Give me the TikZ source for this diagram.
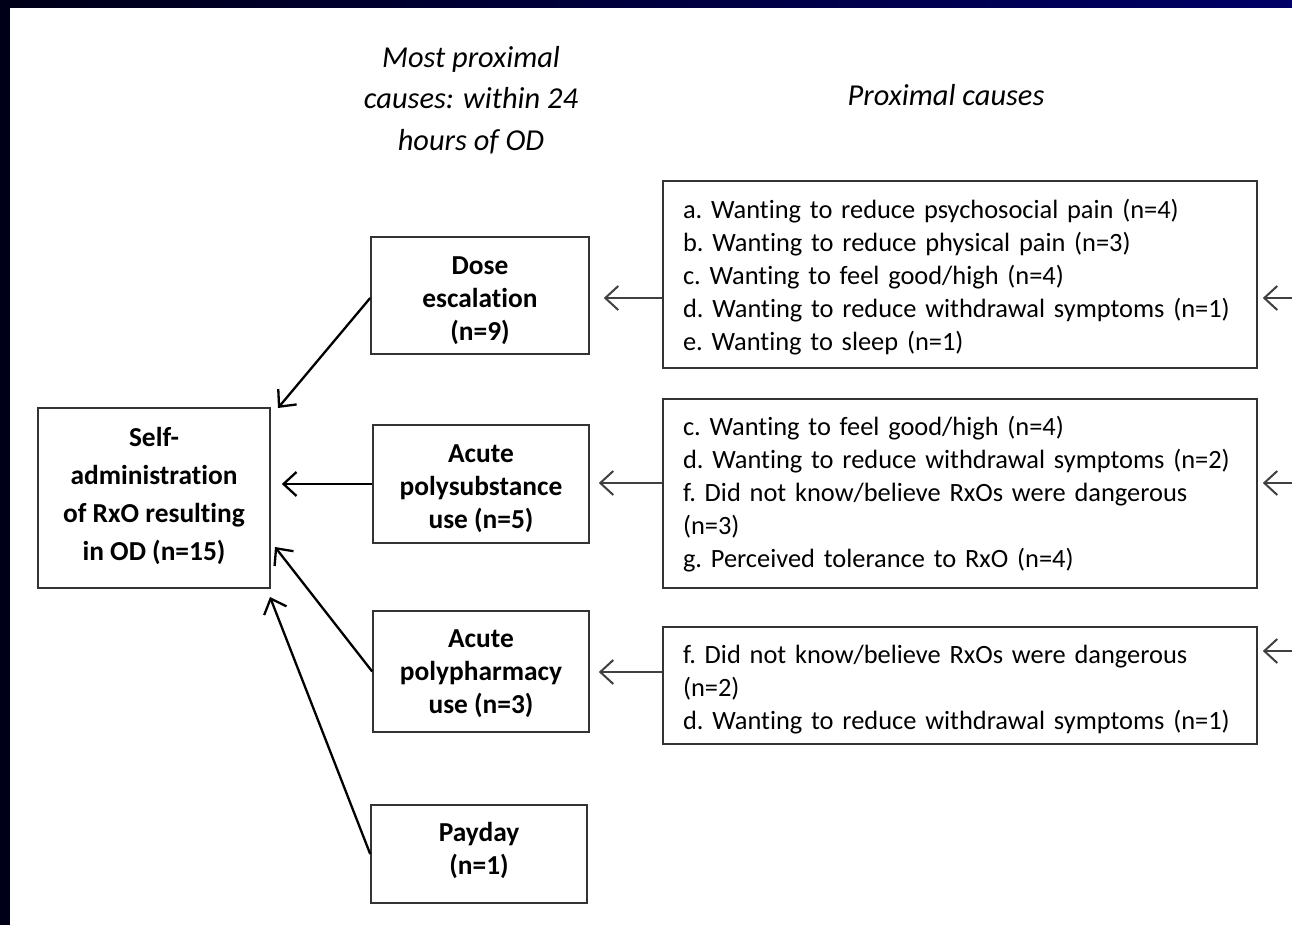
\documentclass[tikz,border=0pt]{standalone}
\usepackage{fontspec}
\setmainfont{Carlito}[Ligatures=CommonOff]
\usetikzlibrary{arrows.meta}
\definecolor{slidenavy}{RGB}{0,0,102}
\definecolor{slidedark}{RGB}{0,0,24}
\newcommand{\boxfont}{\fontsize{13.2}{16.5}\selectfont\frenchspacing}

\begin{document}
\begin{tikzpicture}[x=0.5pt,y=-0.5pt,
        frame/.style={draw=black!80,line width=0.8pt,inner sep=0pt},
        stagetext/.style={align=center,inner sep=0pt,font=\fontsize{13.7}{16.5}\selectfont\bfseries},
        causetext/.style={align=left,inner sep=0pt,text width=277pt,font=\boxfont},
        heading/.style={align=center,font=\fontsize{15.2}{20.75}\selectfont\itshape},
        leadto/.style={-{Straight Barb[length=6.5pt,width=12pt]},line width=1.15pt},
        feedto/.style={-{Straight Barb[length=6.5pt,width=12pt]},line width=1pt,black!75}]
            \useasboundingbox (0,0) rectangle (1292,925);
            \fill[white] (0,0) rectangle (1292,925);
            \shade[left color=slidedark,right color=slidenavy] (0,0) rectangle (1292,8);
            \fill[slidedark] (0,0) rectangle (10,925);
            \node[heading] (hmost) at (471,100) {Most proximal\\causes: within 24\\hours of OD};
            \node[heading] (hprox) at (946,95) {Proximal causes};
            \node[frame,minimum width=116pt,minimum height=90pt] (self) at (154,498) {};
            \node[frame,minimum width=109pt,minimum height=58.5pt] (dose) at (480,295.5) {};
            \node[frame,minimum width=108pt,minimum height=59pt] (poly) at (481,484) {};
            \node[frame,minimum width=108pt,minimum height=60.5pt] (pharm) at (481,671.5) {};
            \node[frame,minimum width=108pt,minimum height=49pt] (pay) at (479,854) {};
            \node[frame,minimum width=297pt,minimum height=93.5pt] (cdose) at (960,274.5) {};
            \node[frame,minimum width=297pt,minimum height=94.5pt] (cpoly) at (960,493.5) {};
            \node[frame,minimum width=297pt,minimum height=58.5pt] (cpharm) at (960,685.5) {};
            \node[stagetext,font=\fontsize{13.7}{19}\selectfont\bfseries] (selftxt) at ([yshift=1.25pt]self) {Self-\\administration\\of RxO resulting\\in OD (n=15)};
            \node[stagetext] (dosetxt) at ([yshift=-2.5pt]dose) {Dose\\escalation\\(n=9)};
            \node[stagetext] (polytxt) at ([yshift=-2.5pt]poly) {Acute\\polysubstance\\use (n=5)};
            \node[stagetext] (pharmtxt) at ([yshift=-1pt]pharm) {Acute\\polypharmacy\\use (n=3)};
            \node[stagetext] (paytxt) at ([yshift=2pt]pay) {Payday\\(n=1)};
            \node[causetext] (cdosetxt) at ([yshift=-1.25pt]cdose) {a. Wanting to reduce psychosocial pain (n=4)\\b. Wanting to reduce physical pain (n=3)\\c. Wanting to feel good/high (n=4)\\d. Wanting to reduce withdrawal symptoms (n=1)\\e. Wanting to sleep (n=1)};
            \node[causetext] (cpolytxt) at ([yshift=-0.5pt]cpoly) {c. Wanting to feel good/high (n=4)\\d. Wanting to reduce withdrawal symptoms (n=2)\\f. Did not know/believe RxOs were dangerous\\(n=3)\\g. Perceived tolerance to RxO (n=4)};
            \node[causetext] (cpharmtxt) at ([yshift=-2pt]cpharm) {f. Did not know/believe RxOs were dangerous\\(n=2)\\d. Wanting to reduce withdrawal symptoms (n=1)};
            \coordinate (tdose) at (278,408);
            \coordinate (tpharm) at (275,547);
            \coordinate (tpay) at (270,597);
            \coordinate (edose) at (1292,298);
            \coordinate (epoly) at (1292,483);
            \coordinate (epharm) at (1292,651);
            \draw[leadto] (dose.west |- 0,298) -- (tdose);
            \draw[leadto,shorten >=5.5pt] (poly.west) -- (self.east |- poly.west);
            \draw[leadto] (pharm.west) -- (tpharm);
            \draw[leadto] (pay.west) -- (tpay);
            \draw[feedto,shorten >=7pt] (cdose.west |- 0,298) -- (dose.east |- 0,298);
            \draw[feedto,shorten >=4.5pt] (cpoly.west |- 0,483) -- (poly.east |- 0,483);
            \draw[feedto,shorten >=4.5pt] (cpharm.west |- 0,672) -- (pharm.east |- 0,672);
            \draw[feedto,shorten >=2.5pt] (edose) -- (cdose.east |- edose);
            \draw[feedto,shorten >=2.5pt] (epoly) -- (cpoly.east |- epoly);
            \draw[feedto,shorten >=2.5pt] (epharm) -- (cpharm.east |- epharm);
        \end{tikzpicture}
\end{document}
